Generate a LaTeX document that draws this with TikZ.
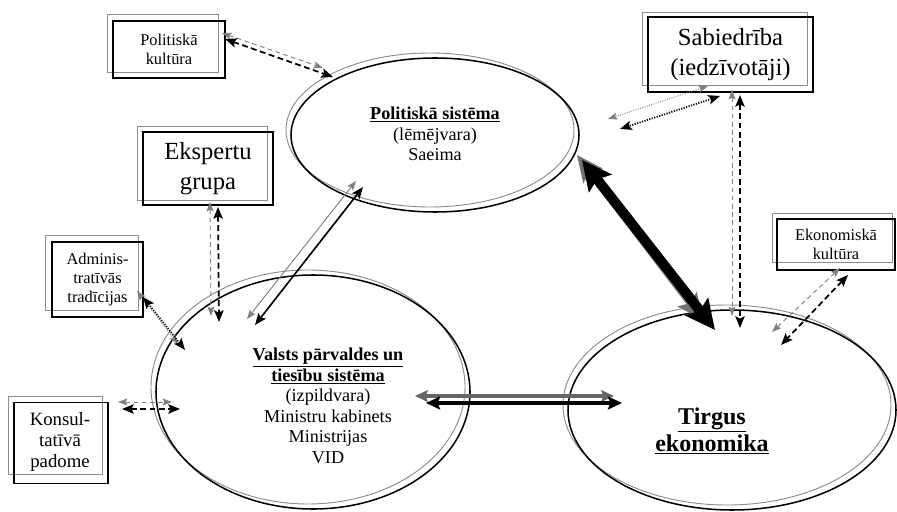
\documentclass[tikz,border=0pt]{standalone}
\usepackage{fontspec}
\setmainfont{Liberation Serif}
\usetikzlibrary{arrows.meta,shapes.geometric}
\begin{document}
\begin{tikzpicture}[x=0.03cm,y=-0.03cm,
  shadowline/.style={draw=black!45, line width=0.8pt},
  inkline/.style={draw=black, line width=1.3pt},
  ell/.style={ellipse, inner sep=0pt},
  boxk/.style={rectangle, inkline, inner sep=0pt, align=center},
  txt/.style={inner sep=0pt, align=center},
  small/.style={font=\fontsize{14}{16.5}\selectfont},
  mid/.style={font=\fontsize{15.5}{17.5}\selectfont},
  big/.style={font=\fontsize{21}{25.5}\selectfont},
  tipK/.style={>={Stealth[length=10pt,width=8pt,inset=2pt]}, <->},
  tipG/.style={>={Stealth[length=8pt,width=6pt,inset=1.5pt]}, <->},
  dashK/.style={tipK, draw=black, line width=1.5pt, dash pattern=on 5pt off 3pt},
  dashG/.style={tipG, draw=black!50, line width=0.8pt, dash pattern=on 4pt off 3pt},
  dotK/.style={tipK, draw=black, line width=1.5pt, dash pattern=on 1pt off 1.2pt},
  dotG/.style={tipG, draw=black!50, line width=0.8pt, dash pattern=on 0.8pt off 1.2pt},
  solK/.style={tipK, draw=black, line width=1.4pt},
  solG/.style={tipG, draw=black!50, line width=0.8pt}]
\useasboundingbox (0,0) rectangle (897,512);

% --- ellipses: grey offset copy, then the black outline ---
\node[ell, shadowline, minimum width=8.64cm, minimum height=4.62cm] (polS) at (430,130) {};
\node[ell, inkline, minimum width=8.64cm, minimum height=4.62cm] (pol) at (435,135) {};
\node[ell, shadowline, minimum width=9.42cm, minimum height=7.02cm] (valS) at (308,387) {};
\node[ell, inkline, minimum width=9.42cm, minimum height=7.02cm] (val) at (313,392) {};
\node[ell, shadowline, minimum width=9.84cm, minimum height=6.0cm] (tirS) at (727,405) {};
\node[ell, inkline, minimum width=9.84cm, minimum height=6.0cm] (tir) at (732,410) {};

% --- boxes: grey offset frame, then the black frame ---
\draw[shadowline] (107,14) rectangle (218,72);
\node[boxk, small, minimum width=3.36cm, minimum height=1.71cm] (pk) at (169,49.5) {Politiskā\\kultūra};
\draw[shadowline] (642,12) rectangle (807,85);
\node[boxk, big, minimum width=4.95cm, minimum height=2.25cm] (sab) at (730.5,54.5) {Sabiedrība\\(iedzīvotāji)};
\draw[shadowline] (137,126) rectangle (267,200);
\node[boxk, big, minimum width=3.9cm, minimum height=2.19cm] (eks) at (208,168.5) {Ekspertu\\grupa};
\draw[shadowline] (45,235) rectangle (138,310);
\node[boxk, small, minimum width=2.73cm, minimum height=2.25cm] (adm) at (97.5,279.5) {Adminis-\\tratīvās\\tradīcijas};
\draw[shadowline] (8,396) rectangle (102,474);
\node[boxk, minimum width=2.82cm, minimum height=2.43cm] (kons) at (61,443) {};
\node[txt, font=\fontsize{16}{18}\selectfont] (konsT) at (60,442) {Konsul-\\tatīvā\\padome};
\draw[shadowline] (772,213) rectangle (892,262);
\node[boxk, small, minimum width=3.54cm, minimum height=1.53cm] (eko) at (836,244.5) {Ekonomiskā\\kultūra};

% --- arrow end points ---
\coordinate (a1gs) at (222,33);  \coordinate (a1ge) at (323,68);
\coordinate (a1ks) at (225,39);  \coordinate (a1ke) at (333,77);
\coordinate (a2gs) at (708,86);  \coordinate (a2ge) at (608,119);
\coordinate (a2ks) at (720,96);  \coordinate (a2ke) at (620,129);
\coordinate (a3gs) at (732,90);  \coordinate (a3ge) at (732,316);
\coordinate (a3ks) at (740,95);  \coordinate (a3ke) at (740,328);
\coordinate (a4gs) at (210,202); \coordinate (a4ge) at (211,316);
\coordinate (a4ks) at (218,207); \coordinate (a4ke) at (219,322);
\coordinate (a5gs) at (137,291); \coordinate (a5ge) at (178,344);
\coordinate (a5ks) at (143,297); \coordinate (a5ke) at (185,350);
\coordinate (a6gs) at (118,402); \coordinate (a6ge) at (172,402);
\coordinate (a6ks) at (122,409); \coordinate (a6ke) at (180,409);
\coordinate (a7gs) at (356,181); \coordinate (a7ge) at (247,319);
\coordinate (a7ks) at (363,187); \coordinate (a7ke) at (255,325);
\coordinate (a8gs) at (577,155); \coordinate (a8ge) at (703,320);
\coordinate (a8ks) at (582,160); \coordinate (a8ke) at (715,330);
\coordinate (a9gs) at (415,396); \coordinate (a9ge) at (614,396);
\coordinate (a9ks) at (426,403); \coordinate (a9ke) at (622,403);
\coordinate (a10gs) at (840,268); \coordinate (a10ge) at (772,332);
\coordinate (a10ks) at (848,275); \coordinate (a10ke) at (781,345);

% --- connectors: grey copy first, black one beside it ---
\draw[dashG] (a1gs) -- (a1ge);  \draw[dashK] (a1ks) -- (a1ke);
\draw[dotG]  (a2gs) -- (a2ge);  \draw[dotK]  (a2ks) -- (a2ke);
\draw[dashG] (a3gs) -- (a3ge);  \draw[dashK] (a3ks) -- (a3ke);
\draw[dashG] (a4gs) -- (a4ge);  \draw[dashK] (a4ks) -- (a4ke);
\draw[dotG]  (a5gs) -- (a5ge);  \draw[dotK]  (a5ks) -- (a5ke);
\draw[dashG] (a6gs) -- (a6ge);  \draw[dashK] (a6ks) -- (a6ke);
\draw[solG]  (a7gs) -- (a7ge);  \draw[solK]  (a7ks) -- (a7ke);
\draw[draw=black!55, line width=6pt, >={Stealth[length=22pt,width=20pt,inset=4pt]}, <->] (a8gs) -- (a8ge);
\draw[draw=black, line width=8.5pt, >={Stealth[length=25pt,width=24pt,inset=4pt]}, <->] (a8ks) -- (a8ke);
\draw[draw=black!60, line width=3.5pt, >={Stealth[length=11pt,width=10pt,inset=2pt]}, <->] (a9gs) -- (a9ge);
\draw[draw=black, line width=4pt, >={Stealth[length=12pt,width=11pt,inset=2pt]}, <->] (a9ks) -- (a9ke);
\draw[dashG] (a10gs) -- (a10ge); \draw[dashK] (a10ks) -- (a10ke);

% --- ellipse texts ---
\node[txt, mid] (polT) at (435,134) {\textbf{\underline{Politiskā sistēma}}\\(lēmējvara)\\Saeima};
\node[txt, mid] (valT) at (328,406) {\textbf{\underline{Valsts pārvaldes un}}\\\textbf{\underline{tiesību sistēma}}\\(izpildvara)\\Ministru kabinets\\Ministrijas\\VID};
\node[txt, font=\fontsize{20.5}{23}\selectfont] (tirT) at (712,431) {\textbf{\underline{Tirgus}}\\\textbf{\underline{ekonomika}}};
\end{tikzpicture}
\end{document}
